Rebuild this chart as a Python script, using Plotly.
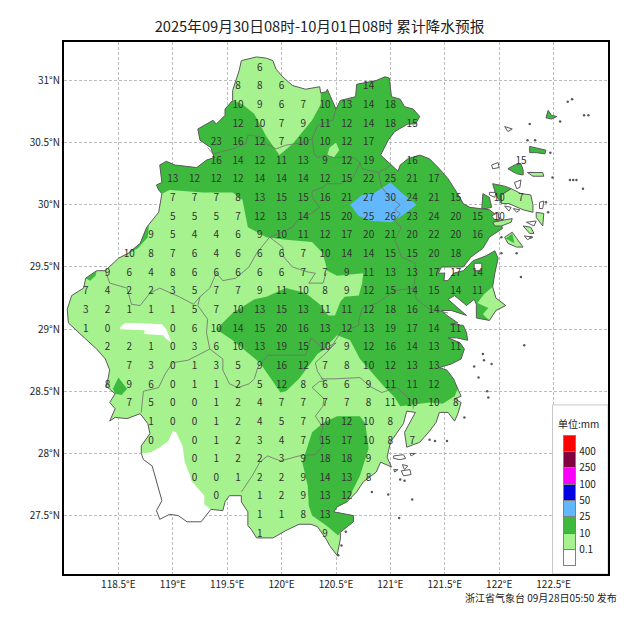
import plotly.graph_objects as go

# 各级雨量色标
level_labels = ["0.1", "10", "25", "50", "100", "250", "400"]
level_colors = ["#ffffff", "#a6f28f", "#3dba3d", "#61b8ff", "#0000e1", "#fa00fa", "#800040", "#ff0000"]

# 格点预报数字: 纬度, 起始经度, 每隔0.2度一个值
row_lats = [31.10, 30.95, 30.80, 30.65, 30.50, 30.35, 30.20, 30.05, 29.90, 29.75, 29.60, 29.45, 29.30, 29.15,
            29.00, 28.85, 28.70, 28.55, 28.40, 28.25, 28.10, 27.95, 27.80, 27.65, 27.50, 27.35]
row_starts = [119.8, 119.6, 119.6, 119.6, 119.4, 119.4, 119.0, 119.0, 119.0, 118.8, 118.6, 118.4, 118.2, 118.2,
              118.2, 118.4, 118.6, 118.4, 118.6, 118.8, 118.8, 119.2, 119.2, 119.4, 119.8, 119.8]
row_vals = [
    [6],
    [8, 8, 6, None, None, None, 14],
    [10, 9, 6, 7, 10, 13, 14, 18],
    [12, 10, 7, 9, 11, 12, 14, 18, 15],
    [23, 16, 12, 7, 10, 10, 12, 17],
    [16, 14, 12, 11, 13, 9, 12, 19, None, 16, None, None, None, None, 15],
    [13, 12, 12, 12, 14, 14, 14, 12, 15, 22, 25, 21, 17],
    [7, 7, 7, 8, 13, 15, 15, 16, 21, 27, 30, 24, 21, 15, None, 10, 7],
    [5, 5, 5, 7, 12, 13, 14, 15, 20, 25, 26, 23, 24, 20, 15, 10],
    [9, 5, 4, 4, 6, 9, 10, 11, 12, 17, 20, 21, 20, 22, 20, 16],
    [10, 8, 7, 6, 4, 6, 6, 6, 7, 10, 14, 14, 15, 15, 20, 18],
    [9, 6, 4, 8, 6, 6, 6, 6, 6, 7, 7, 9, 11, 13, 13, 17, 17, 14],
    [7, 4, 2, 2, 3, 5, 7, 7, 9, 11, 10, 8, 9, 12, 15, 14, 15, 14, 11],
    [3, 2, 1, 1, 1, 5, 7, 10, 13, 15, 13, 11, 11, 12, 18, 16, 14],
    [1, 0, None, None, 0, 6, 10, 14, 15, 20, 16, 13, 12, 13, 19, 17, 14, 11],
    [2, 2, 1, 0, 3, 6, 10, 13, 19, 15, 10, 9, 12, 16, 14, 13, 11],
    [7, 3, 0, 1, 3, 5, 9, 16, 12, 7, 8, 10, 12, 13, 13],
    [8, 9, 6, 0, 1, 1, 2, 5, 12, 8, 6, 6, 9, 11, 11, 12],
    [7, 5, 0, 0, 1, 2, 4, 7, 7, 7, 7, 8, 11, 10, 10, 8],
    [1, 0, 0, 1, 2, 4, 5, 7, 10, 12, 10, 8],
    [0, None, 0, 1, 2, 3, 4, 7, 15, 17, 10, 8, 7],
    [0, 1, 2, 2, 3, 9, 18, 18, 9],
    [0, 0, 1, 2, 2, 9, 14, 13, 8],
    [0, None, 1, 2, 9, 13, 12],
    [1, 1, 8, 13],
    [1, None, None, 9],
]

# 省界, 顺时针分段 (经度, 纬度)
coast_nw = [(118.90, 30.09), (118.87, 30.12), (118.85, 30.16), (118.90, 30.18), (118.88, 30.32), (118.94, 30.35),
            (119.02, 30.32), (119.13, 30.31), (119.22, 30.30), (119.31, 30.36), (119.38, 30.38), (119.35, 30.46),
            (119.25, 30.52), (119.23, 30.61), (119.37, 30.68), (119.40, 30.65), (119.48, 30.72), (119.48, 30.77),
            (119.55, 30.84)]
coast_north = [(119.55, 30.92), (119.58, 31.00), (119.61, 31.08), (119.63, 31.16), (119.67, 31.17), (119.77, 31.19),
               (119.86, 31.18), (119.92, 31.16), (119.95, 31.09), (120.01, 31.03), (120.10, 30.96), (120.22, 30.93),
               (120.35, 30.95), (120.36, 30.90)]
coast_east = [(120.41, 30.91), (120.42, 30.93), (120.45, 30.87), (120.50, 30.77), (120.54, 30.84), (120.68, 30.87),
              (120.69, 30.97), (120.87, 31.00), (120.95, 31.03), (120.99, 31.02), (121.01, 30.87), (121.09, 30.85),
              (121.13, 30.79), (121.21, 30.77), (121.27, 30.71), (121.23, 30.65), (121.16, 30.65), (121.04, 30.59),
              (120.98, 30.52), (120.94, 30.45), (120.91, 30.40), (121.01, 30.32), (121.07, 30.27), (121.09, 30.32),
              (121.16, 30.37), (121.27, 30.40), (121.36, 30.37), (121.45, 30.29), (121.53, 30.21), (121.61, 30.10),
              (121.67, 30.01), (121.73, 29.98), (121.91, 29.96), (122.00, 29.90), (122.03, 29.81), (121.91, 29.74),
              (121.85, 29.65), (121.74, 29.58), (121.67, 29.50), (121.58, 29.50), (121.47, 29.50), (121.44, 29.45),
              (121.50, 29.45), (121.49, 29.39), (121.53, 29.39), (121.58, 29.45), (121.67, 29.47), (121.76, 29.55),
              (121.88, 29.59), (121.96, 29.63), (121.99, 29.57), (121.96, 29.45), (121.94, 29.34), (121.97, 29.25),
              (122.06, 29.19), (121.97, 29.15), (121.91, 29.07), (121.79, 29.09), (121.79, 29.20), (121.77, 29.24),
              (121.70, 29.19), (121.59, 29.27), (121.53, 29.24), (121.62, 29.17), (121.70, 29.11), (121.56, 29.15),
              (121.47, 29.15), (121.52, 29.11), (121.62, 29.05), (121.55, 29.04), (121.67, 29.03), (121.70, 28.97),
              (121.71, 28.91), (121.61, 28.93), (121.53, 28.93), (121.64, 28.89), (121.68, 28.84), (121.65, 28.76),
              (121.56, 28.72), (121.45, 28.69), (121.52, 28.67), (121.58, 28.60), (121.62, 28.52)]
coast_se = [(121.65, 28.46), (121.59, 28.44), (121.65, 28.41), (121.62, 28.32), (121.59, 28.26), (121.53, 28.33),
            (121.45, 28.33), (121.42, 28.25), (121.36, 28.18), (121.27, 28.09), (121.15, 28.05), (121.13, 28.17),
            (121.18, 28.25), (121.23, 28.33), (121.15, 28.34), (121.12, 28.24), (121.00, 28.09), (120.97, 27.97),
            (121.01, 27.89), (120.91, 27.93), (120.87, 27.85), (120.75, 27.77), (120.69, 27.69)]
coast_wz = [(120.60, 27.61), (120.51, 27.57), (120.48, 27.53), (120.66, 27.50), (120.66, 27.45), (120.54, 27.365)]
coast_tip = [(120.54, 27.31), (120.51, 27.18), (120.44, 27.26), (120.41, 27.31), (120.33, 27.41), (120.27, 27.43),
             (120.16, 27.43), (120.04, 27.38), (119.92, 27.32), (119.77, 27.32), (119.72, 27.39), (119.69, 27.42),
             (119.69, 27.53), (119.63, 27.61), (119.63, 27.66), (119.52, 27.66), (119.48, 27.61), (119.46, 27.54),
             (119.35, 27.55)]
coast_sw = [(119.26, 27.45), (119.13, 27.45), (119.05, 27.50), (118.97, 27.51), (118.88, 27.47), (118.85, 27.54),
            (118.90, 27.62), (118.87, 27.71), (118.85, 27.79), (118.81, 27.90), (118.73, 27.95), (118.71, 28.00)]
coast_west = [(118.71, 28.06), (118.79, 28.16), (118.77, 28.24), (118.70, 28.32), (118.58, 28.28), (118.47, 28.29),
              (118.42, 28.26), (118.47, 28.36), (118.42, 28.41), (118.47, 28.48), (118.39, 28.54), (118.42, 28.67),
              (118.38, 28.76), (118.30, 28.84), (118.20, 28.92), (118.10, 29.00), (118.04, 29.05), (118.03, 29.16),
              (118.07, 29.27), (118.18, 29.33), (118.20, 29.41), (118.30, 29.47), (118.38, 29.47), (118.50, 29.57),
              (118.59, 29.61), (118.70, 29.69), (118.76, 29.82), (118.87, 29.94)]
province = coast_nw + coast_north + coast_east + coast_se + coast_wz + coast_tip + coast_sw + coast_west

# 10mm 等值线内部边界
north_pocket = [(119.64, 30.81), (119.75, 30.73), (119.86, 30.55), (119.98, 30.40), (120.10, 30.49), (120.28, 30.68),
                (120.36, 30.81)]
rim_10mm = [(121.59, 28.46), (121.48, 28.40), (121.36, 28.41), (121.09, 28.38), (121.04, 28.45), (120.94, 28.54),
            (120.72, 28.76), (120.63, 28.91), (120.51, 28.95), (120.38, 28.83), (120.33, 28.80), (120.16, 28.60),
            (120.04, 28.50), (119.99, 28.49), (119.80, 28.73), (119.55, 28.91), (119.40, 29.00), (119.55, 29.13),
            (119.75, 29.24), (119.86, 29.26), (120.04, 29.33), (120.22, 29.29), (120.35, 29.20), (120.43, 29.11),
            (120.49, 29.11), (120.52, 29.17), (120.54, 29.22), (120.58, 29.26), (120.71, 29.27), (120.74, 29.37),
            (120.75, 29.45), (120.51, 29.43), (120.42, 29.47), (120.38, 29.61), (120.28, 29.70), (120.04, 29.72),
            (119.86, 29.74), (119.69, 29.82), (119.64, 30.04), (119.55, 30.10), (119.28, 30.10), (118.97, 30.12)]
wz_rim = [(120.52, 27.34), (120.41, 27.42), (120.28, 27.50), (120.25, 27.58), (120.24, 27.74), (120.19, 27.93),
          (120.24, 28.06), (120.28, 28.17), (120.39, 28.25), (120.51, 28.30), (120.72, 28.30), (120.77, 28.24),
          (120.80, 28.04), (120.72, 27.82)]
dark_bits = [
    [(118.50, 29.57), (118.59, 29.61), (118.70, 29.69), (118.76, 29.82), (118.78, 29.84), (118.77, 29.74), (118.68, 29.65), (118.58, 29.60)],
    [(118.20, 29.41), (118.30, 29.47), (118.29, 29.43), (118.24, 29.39)],
    [(118.50, 28.61), (118.45, 28.52), (118.47, 28.48), (118.53, 28.47), (118.58, 28.52)],
]
light_inset = [(120.44, 30.46), (120.50, 30.50), (120.53, 30.44), (120.48, 30.38), (120.42, 30.40)]
xiangshan_light = [(121.94, 29.34), (121.97, 29.25), (122.06, 29.19), (121.97, 29.15), (121.91, 29.07), (121.85, 29.12),
                   (121.90, 29.17), (121.80, 29.21), (121.86, 29.28)]
blue_area = [(120.63, 30.00), (120.74, 30.08), (120.86, 30.10), (121.00, 30.18), (121.10, 30.10), (121.24, 30.00),
             (121.12, 29.92), (121.01, 29.86), (120.83, 29.87), (120.71, 29.91)]

# 无降水区
white_sw_rim = [(118.71, 28.00), (118.80, 28.01), (118.88, 28.05), (118.96, 28.10), (119.00, 28.18), (119.03, 28.17),
                (119.09, 28.06), (119.11, 27.93), (119.16, 27.82), (119.17, 27.78), (119.29, 27.66), (119.29, 27.59),
                (119.35, 27.55)]
white_patch = [(118.51, 29.01), (118.56, 29.05), (118.67, 29.05), (118.90, 29.04), (118.94, 29.00), (118.96, 28.95),
               (118.99, 28.89), (118.94, 28.92), (118.91, 28.95), (118.74, 28.96), (118.74, 28.99), (118.52, 29.00)]

# 海岛
islands_dark = [
    [(121.94, 30.17), (122.05, 30.15), (122.11, 30.13), (122.02, 30.08), (122.02, 30.01), (121.97, 30.08)],
    [(122.08, 30.29), (122.14, 30.32), (122.20, 30.33), (122.22, 30.28), (122.22, 30.24), (122.16, 30.25)],
    [(122.28, 30.47), (122.34, 30.46), (122.43, 30.44), (122.42, 30.41), (122.34, 30.42), (122.28, 30.42)],
    [(122.43, 30.70), (122.45, 30.76), (122.48, 30.72), (122.53, 30.71), (122.48, 30.69)],
    [(121.85, 30.09), (121.91, 30.06), (121.93, 29.98), (121.88, 29.97), (121.84, 29.97)],
]
islands_light = [
    [(122.02, 30.08), (122.11, 30.13), (122.20, 30.09), (122.29, 30.08), (122.31, 30.00), (122.31, 29.94), (122.22, 29.96), (122.09, 30.01), (122.02, 30.01)],
    [(122.26, 30.26), (122.40, 30.26), (122.41, 30.23), (122.31, 30.23)],
    [(122.34, 29.94), (122.41, 29.93), (122.40, 29.83), (122.34, 29.90)],
    [(122.22, 29.83), (122.29, 29.82), (122.32, 29.77), (122.28, 29.77)],
    [(121.94, 29.86), (122.12, 29.89), (122.11, 29.86), (122.02, 29.83), (121.96, 29.83)],
    [(122.05, 29.74), (122.12, 29.78), (122.16, 29.73), (122.22, 29.66), (122.16, 29.66), (122.08, 29.69)],
    [(121.03, 27.87), (121.07, 27.87), (121.04, 27.85)],
]
island_dark_patch = [(122.06, 29.73), (122.12, 29.77), (122.14, 29.69)]
islands_white = [
    [(121.93, 30.32), (121.99, 30.34), (122.00, 30.30), (121.94, 30.29)],
    [(122.14, 30.18), (122.20, 30.20), (122.19, 30.14), (122.16, 30.13)],
    [(121.91, 30.10), (121.97, 30.10), (121.96, 30.06), (121.91, 30.08)],
    [(121.93, 29.91), (121.99, 29.94), (122.00, 29.87), (121.96, 29.88)],
    [(122.05, 30.63), (122.12, 30.61), (122.08, 30.59)],
    [(122.25, 29.86), (122.34, 29.87), (122.32, 29.83)],
    [(122.37, 30.02), (122.41, 30.03), (122.40, 29.97), (122.37, 29.97)],
    [(122.23, 29.75), (122.31, 29.74), (122.26, 29.72)],
    [(121.77, 29.53), (121.84, 29.53), (121.84, 29.47), (121.77, 29.47)],
    [(122.05, 29.99), (122.11, 29.98), (122.09, 29.95)],
    [(122.13, 29.97), (122.19, 29.96), (122.16, 29.94)],
    [(121.03, 27.98), (121.12, 27.99), (121.14, 27.96), (121.09, 27.95), (121.03, 27.96)],
    [(121.10, 27.86), (121.18, 27.87), (121.19, 27.83), (121.12, 27.82)],
    [(121.11, 27.91), (121.16, 27.90), (121.13, 27.87)],
    [(121.18, 28.00), (121.23, 28.00), (121.19, 27.98)],
]
islets = [(122.67, 30.85), (122.63, 30.83), (122.28, 30.65), (122.56, 30.67), (122.78, 30.72), (122.82, 30.72),
          (122.26, 30.52), (122.33, 30.52), (122.47, 30.42), (122.49, 30.22), (122.65, 30.20), (122.68, 30.20),
          (122.71, 30.20), (122.77, 30.13), (122.20, 29.42), (122.43, 30.02), (122.45, 29.94), (122.02, 29.61),
          (122.02, 29.74), (122.16, 29.61), (122.29, 29.74), (122.23, 28.87), (121.85, 28.80), (121.86, 28.75),
          (121.93, 28.72), (121.77, 28.70), (121.81, 28.61), (121.89, 28.50), (121.90, 28.45), (121.68, 28.29),
          (121.36, 28.11), (121.41, 28.10), (121.52, 28.10), (121.09, 27.79), (121.13, 27.78), (120.83, 27.69),
          (120.98, 27.67), (121.20, 27.63), (121.08, 27.48), (120.59, 27.37), (120.55, 27.26), (120.52, 27.18)]

# 市界
city_lines = [
    [(119.32, 30.46), (119.37, 30.41), (119.55, 30.45), (119.67, 30.49), (119.69, 30.56), (119.80, 30.55), (119.86, 30.49),
     (119.95, 30.45), (120.04, 30.48), (120.19, 30.50), (120.28, 30.53), (120.33, 30.64), (120.47, 30.68), (120.50, 30.77)],
    [(120.28, 30.53), (120.30, 30.41), (120.33, 30.38), (120.41, 30.40), (120.48, 30.38), (120.66, 30.38), (120.72, 30.34),
     (120.74, 30.29), (120.89, 30.26), (121.01, 30.32)],
    [(120.89, 30.26), (120.92, 30.14), (121.00, 30.06), (121.09, 30.00), (121.04, 29.96), (121.09, 29.93), (121.04, 29.87),
     (121.10, 29.82), (121.04, 29.71), (121.07, 29.66), (121.10, 29.58), (121.23, 29.53), (121.23, 29.42), (121.21, 29.33),
     (121.04, 29.31), (120.88, 29.21), (120.74, 29.17), (120.71, 29.07), (120.71, 29.03), (120.54, 28.97), (120.45, 28.85),
     (120.36, 28.83)],
    [(121.21, 29.33), (121.24, 29.24), (121.36, 29.16), (121.53, 29.13)],
    [(120.72, 30.34), (120.66, 30.22), (120.54, 30.17), (120.42, 30.17), (120.38, 30.14), (120.28, 30.11), (120.28, 30.06),
     (120.35, 29.98), (120.27, 29.93), (120.16, 29.89), (120.10, 29.82), (119.98, 29.77), (119.89, 29.74), (120.01, 29.66),
     (120.02, 29.58), (120.10, 29.50), (120.24, 29.46), (120.31, 29.45), (120.25, 29.37), (120.38, 29.37), (120.41, 29.45)],
    [(119.89, 29.74), (119.77, 29.61), (119.70, 29.50), (119.63, 29.45), (119.58, 29.41), (119.46, 29.39), (119.40, 29.45),
     (119.34, 29.33), (119.25, 29.26), (119.19, 29.20), (119.06, 29.26), (118.88, 29.33), (118.79, 29.29), (118.70, 29.19),
     (118.62, 29.20), (118.58, 29.33), (118.42, 29.37), (118.38, 29.47)],
    [(119.25, 29.26), (119.23, 29.19), (119.32, 29.08), (119.31, 28.97), (119.34, 28.84), (119.46, 28.76), (119.46, 28.67),
     (119.52, 28.56), (119.60, 28.53), (119.70, 28.56), (119.75, 28.60), (119.78, 28.69), (119.87, 28.79), (120.04, 28.79),
     (120.22, 28.79), (120.27, 28.93), (120.30, 28.91), (120.38, 28.84), (120.50, 28.89)],
    [(119.34, 28.84), (119.25, 28.80), (119.14, 28.75), (119.00, 28.73), (118.93, 28.64), (118.87, 28.53), (118.73, 28.50),
     (118.71, 28.33)],
    [(119.63, 27.69), (119.73, 27.82), (119.80, 27.93), (119.87, 27.98), (119.99, 27.94), (120.16, 27.98), (120.31, 27.99),
     (120.38, 28.06), (120.35, 28.12), (120.38, 28.21), (120.31, 28.30), (120.38, 28.38), (120.39, 28.44), (120.28, 28.53),
     (120.35, 28.58), (120.39, 28.58), (120.33, 28.66), (120.31, 28.73), (120.41, 28.81), (120.50, 28.89)],
    [(120.36, 28.60), (120.48, 28.60), (120.72, 28.61), (120.81, 28.54), (120.92, 28.49), (121.06, 28.53), (121.21, 28.41),
     (121.21, 28.36)],
]

lon_ticks = [118.5, 119, 119.5, 120, 120.5, 121, 121.5, 122, 122.5]
lat_ticks = [27.5, 28, 28.5, 29, 29.5, 30, 30.5, 31]

CJK = "Noto Sans CJK SC"
BORDER = "#5a5a5a"


def area(points, color):
    closed = points + points[:1]
    return go.Scatter(x=[p[0] for p in closed], y=[p[1] for p in closed], mode="lines", fill="toself",
                      fillcolor=color, line=dict(width=0, color=color), hoverinfo="skip", showlegend=False)


def outline(points, fill=None, width=1.0):
    pts = points + points[:1] if fill else points
    return go.Scatter(x=[p[0] for p in pts], y=[p[1] for p in pts], mode="lines",
                      fill="toself" if fill else None, fillcolor=fill,
                      line=dict(width=width, color=BORDER), hoverinfo="skip", showlegend=False)


light, dark, blue = level_colors[1], level_colors[2], level_colors[3]
fig = go.Figure()

# 色块, 从下往上叠
fig.add_trace(area(province, light))
fig.add_trace(area(coast_nw + north_pocket + [coast_north[-1]] + coast_east + rim_10mm, dark))
fig.add_trace(area(coast_wz + wz_rim, dark))
for bit in dark_bits:
    fig.add_trace(area(bit, dark))
fig.add_trace(area(light_inset, light))
fig.add_trace(area(xiangshan_light, light))
fig.add_trace(area(blue_area, blue))
fig.add_trace(area(white_sw_rim + coast_sw, "#ffffff"))
fig.add_trace(area(white_patch, "#ffffff"))

# 省界和海岛
fig.add_trace(outline(province + province[:1]))
for isl in islands_dark:
    fig.add_trace(outline(isl, dark))
for isl in islands_light:
    fig.add_trace(outline(isl, light))
fig.add_trace(area(island_dark_patch, dark))
for isl in islands_white:
    fig.add_trace(outline(isl, "#ffffff"))
fig.add_trace(go.Scatter(x=[p[0] for p in islets], y=[p[1] for p in islets], mode="markers",
                         marker=dict(size=2.5, color=BORDER),
                         hoverinfo="skip", showlegend=False))
for seg in city_lines:
    fig.add_trace(go.Scatter(x=[p[0] for p in seg], y=[p[1] for p in seg], mode="lines",
                             line=dict(width=0.8, color="#6e6e6e"), hoverinfo="skip", showlegend=False))

# 格点数字
txt_x, txt_y, txt_s = [], [], []
for lat, start, vals in zip(row_lats, row_starts, row_vals):
    for i, v in enumerate(vals):
        if v is not None:
            txt_x.append(round(start + 0.2 * i, 1))
            txt_y.append(lat)
            txt_s.append(str(v))
fig.add_trace(go.Scatter(x=txt_x, y=txt_y, text=txt_s, mode="text", textposition="middle center",
                         textfont=dict(family=CJK, size=10, color="#333333"), hoverinfo="skip", showlegend=False))

# 图例色条
for c in level_colors:
    fig.add_trace(go.Bar(x=[0], y=[1], width=1, marker=dict(color=c, line=dict(color="#808080", width=1)),
                         xaxis="x2", yaxis="y2", hoverinfo="skip", showlegend=False))

fig.update_layout(
    width=640, height=624, margin=dict(l=64, r=32, t=42, b=50),
    paper_bgcolor="white", plot_bgcolor="white", barmode="stack",
    font=dict(family=CJK, size=10, color="#222222"),
    title=dict(text="2025年09月30日08时-10月01日08时 累计降水预报", x=319.5 / 640, xanchor="center",
               y=1 - 27 / 624, yanchor="middle", font=dict(family=CJK, size=14.7, color="#222222")),
    xaxis=dict(range=[118, 123], tickvals=lon_ticks, ticktext=[f"{v:g}°E" for v in lon_ticks], ticks="",
               showline=True, mirror=True, linecolor="black", linewidth=2,
               showgrid=True, gridcolor="#bdbdbd", griddash="3px,2px", gridwidth=1, zeroline=False),
    yaxis=dict(range=[27.03, 31.31], tickvals=lat_ticks, ticktext=[f"{v:g}°N" for v in lat_ticks], ticks="",
               showline=True, mirror=True, linecolor="black", linewidth=2,
               showgrid=True, gridcolor="#bdbdbd", griddash="3px,2px", gridwidth=1, zeroline=False),
    xaxis2=dict(domain=[0.915, 0.9435], range=[-0.6, 0.6], anchor="y2", showgrid=False, zeroline=False,
                showticklabels=False, ticks=""),
    yaxis2=dict(domain=[0.012, 0.2643], range=[-0.1, 8.1], anchor="x2", side="right", showgrid=False, zeroline=False,
                tickvals=list(range(1, 8)), ticktext=level_labels, ticks="", ticklabelstandoff=1,
                tickfont=dict(family=CJK, size=10, color="#222222")),
    shapes=[dict(type="rect", layer="between", xref="x", yref="y", x0=122.49, x1=123, y0=27.03, y1=28.39,
                 fillcolor="white", line=dict(color="#c8c8c8", width=1))],
    annotations=[
        dict(text="单位:mm", xref="x", yref="y", x=122.73, y=28.24, showarrow=False,
             font=dict(family=CJK, size=10, color="#222222")),
        dict(text="浙江省气象台 09月28日05:50 发布", xref="paper", yref="paper", x=1.02, y=-0.0445,
             xanchor="right", yanchor="middle", showarrow=False, font=dict(family=CJK, size=10, color="#222222")),
    ],
)

fig.write_html("out.html", config={"displayModeBar": False},
               post_script="document.body.style.margin='0';document.body.style.overflow='hidden';")
